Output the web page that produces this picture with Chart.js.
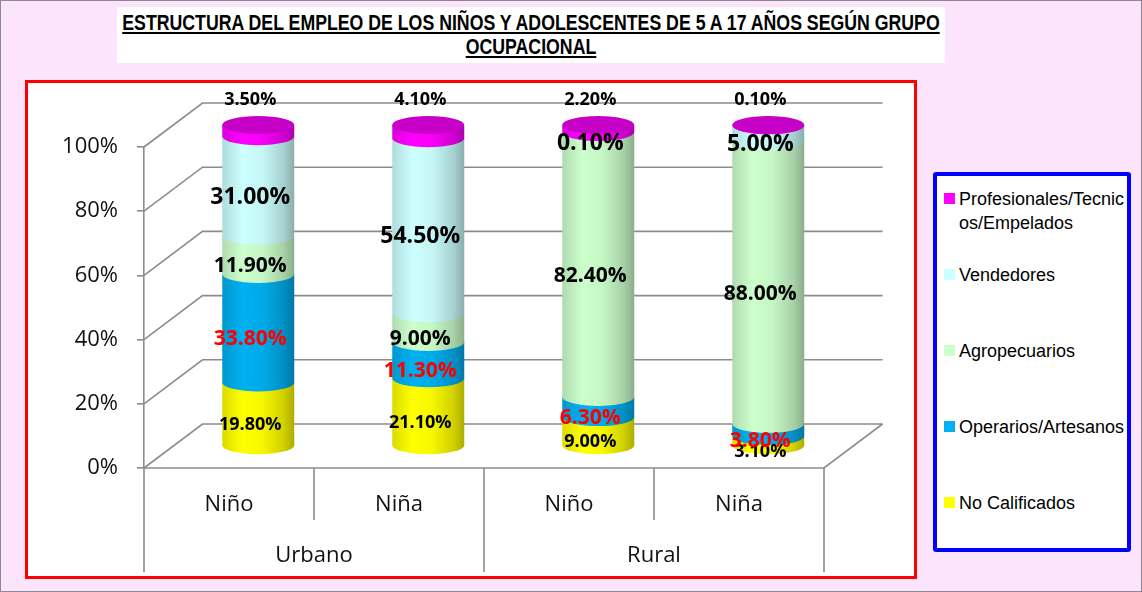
<!DOCTYPE html>
<html>
<head>
<meta charset="utf-8">
<script src="https://cdn.jsdelivr.net/npm/chart.js@4/dist/chart.umd.min.js"></script>
<style>
    html, body { margin: 0; padding: 0; }
    body { width: 1142px; height: 592px; background: #FCE4FC; position: relative; overflow: hidden; font-family: 'Liberation Sans', Arial, sans-serif; }
    #outer { position: absolute; left: 0; top: 0; width: 1142px; height: 592px; box-sizing: border-box; border: 1px solid #8a8a8a; }
    #title { position: absolute; left: 117px; top: 7px; width: 828px; height: 56px; background: #fff; text-align: center; color: #000; }
    #title span { position: absolute; left: 50%; top: 4px; transform: translateX(-50%) scaleX(0.805); white-space: nowrap;
                  font-family: 'Liberation Sans', Arial, sans-serif; font-weight: bold; font-size: 22px; line-height: 24px; text-decoration: underline; }
    #frame { position: absolute; left: 25px; top: 80px; width: 892px; height: 499px; box-sizing: border-box; border: 3px solid #ff0000; background: #fff; }
    #chart { position: absolute; left: 0; top: 0; }
    #legend { position: absolute; left: 933px; top: 172px; width: 198px; height: 380px; box-sizing: border-box; border: 4px solid #0000ff; border-radius: 3px; background: #fff; }
    .item { position: absolute; left: 7px; width: 185px; }
    .swatch { position: absolute; left: 0; top: 6px; width: 11px; height: 11px; }
    .txt { position: absolute; left: 15px; width: 168px; font-size: 18px; line-height: 24px; color: #000; word-break: break-all; }
</style>
</head>
<body>
<div id="outer"></div>
<div id="title"><span>ESTRUCTURA DEL EMPLEO DE LOS NIÑOS Y ADOLESCENTES DE 5 A 17 AÑOS SEGÚN GRUPO<br>OCUPACIONAL</span></div>
<div id="frame"></div>
<canvas id="chart" width="1142" height="592"></canvas>
<div id="legend"></div>
<script>
// Datos del grafico
const categories = ['Niño', 'Niña', 'Niño', 'Niña'];
const groups = ['Urbano', 'Rural'];
const seriesNames = ['No Calificados', 'Operarios/Artesanos', 'Agropecuarios', 'Vendedores', 'Profesionales/Tecnicos/Empelados'];
const noCalificados = [19.8, 21.1, 9.0, 3.1];
const operarios = [33.8, 11.3, 6.3, 3.8];
const agropecuarios = [11.9, 9.0, 82.4, 88.0];
const vendedores = [31.0, 54.5, 0.1, 5.0];
const profesionales = [3.5, 4.1, 2.2, 0.1];
const yTicks = [0, 20, 40, 60, 80, 100];

const seriesData = [noCalificados, operarios, agropecuarios, vendedores, profesionales];
const seriesColors = ['#FFFF00', '#00B0F0', '#CCFFCC', '#CCFFFF', '#FF00FF'];
const labelColors = ['#000', '#FF0000', '#000', '#000', '#000'];
const labelSizes = [18, 21, 21, 23, 18];

// profundidad 3D
const DX = 58.5, DY = -44, RY = 9;
const GRID = '#8c8c8c';

function shade(hex, f) {
    const n = parseInt(hex.slice(1), 16);
    const c = [(n >> 16) & 255, (n >> 8) & 255, n & 255].map(v => Math.max(0, Math.min(255, Math.round(v * f))));
    return `rgb(${c[0]},${c[1]},${c[2]})`;
}

const cylinderPlugin = {
    id: 'cylinder3d',
    beforeDatasetsDraw(chart) {
        const ctx = chart.ctx;
        const xs = chart.scales.x, ys = chart.scales.y;
        const y0 = ys.getPixelForValue(0);

        ctx.save();
        ctx.strokeStyle = GRID;
        ctx.lineWidth = 1.6;
        // paredes: lateral y fondo
        yTicks.forEach(v => {
            const py = ys.getPixelForValue(v);
            ctx.beginPath();
            ctx.moveTo(xs.left, py);
            ctx.lineTo(xs.left + DX, py + DY);
            ctx.lineTo(xs.right + DX, py + DY);
            ctx.stroke();
        });
        // piso
        ctx.beginPath();
        ctx.moveTo(xs.left, y0);
        ctx.lineTo(xs.right, y0);
        ctx.lineTo(xs.right + DX, y0 + DY);
        ctx.stroke();

        // tabla de categorias
        const bounds = [xs.left];
        for (let i = 0; i < categories.length - 1; i++) {
            bounds.push((xs.getPixelForTick(i) + xs.getPixelForTick(i + 1)) / 2);
        }
        bounds.push(xs.right);
        bounds.forEach((bx, i) => {
            const long = i % 2 === 0;
            ctx.beginPath();
            ctx.moveTo(bx, y0);
            ctx.lineTo(bx, y0 + (long ? 104 : 52));
            ctx.stroke();
        });
        ctx.fillStyle = '#111';
        ctx.font = "22px 'Open Sans'";
        ctx.textAlign = 'center';
        ctx.textBaseline = 'middle';
        groups.forEach((g, i) => {
            ctx.fillText(g, (bounds[i * 2] + bounds[i * 2 + 2]) / 2, y0 + 88);
        });

        // cilindros
        for (let i = 0; i < categories.length; i++) {
            let top = null;
            seriesData.forEach((s, d) => {
                const el = chart.getDatasetMeta(d).data[i];
                const rx = el.width / 2;
                const cx = el.x + DX / 2;
                const ty = el.y + DY / 2;
                const by = el.base + DY / 2;
                const col = seriesColors[d];
                const g = ctx.createLinearGradient(cx - rx, 0, cx + rx, 0);
                g.addColorStop(0, shade(col, 0.86));
                g.addColorStop(0.28, shade(col, 1.0));
                g.addColorStop(0.55, shade(col, 0.97));
                g.addColorStop(0.85, shade(col, 0.82));
                g.addColorStop(1, shade(col, 0.68));
                ctx.fillStyle = g;
                ctx.beginPath();
                ctx.moveTo(cx - rx, ty);
                ctx.lineTo(cx + rx, ty);
                ctx.lineTo(cx + rx, by);
                ctx.ellipse(cx, by, rx, RY, 0, 0, Math.PI);
                ctx.closePath();
                ctx.fill();
                top = { cx, ty, rx, col };
            });
            ctx.fillStyle = shade(top.col, 0.78);
            ctx.beginPath();
            ctx.ellipse(top.cx, top.ty, top.rx, RY, 0, 0, Math.PI * 2);
            ctx.fill();
        }

        // etiquetas
        seriesData.forEach((s, d) => {
            const meta = chart.getDatasetMeta(d);
            ctx.fillStyle = labelColors[d];
            ctx.font = `bold ${labelSizes[d]}px 'Open Sans'`;
            s.forEach((v, i) => {
                const el = meta.data[i];
                const lx = el.x + DX / 2 - 8;
                let ly;
                if (d === seriesData.length - 1) ly = el.y + DY / 2 - 25;
                else ly = (el.y + el.base) / 2 + DY / 2 + 11;
                ctx.fillText(v.toFixed(2) + '%', lx, ly);
            });
        });
        ctx.restore();
        return false;
    }
};

new Chart(document.getElementById('chart'), {
    type: 'bar',
    data: {
        labels: categories,
        datasets: seriesData.map((s, d) => ({
            label: seriesNames[d],
            data: s,
            backgroundColor: seriesColors[d],
            categoryPercentage: 1,
            barPercentage: 0.4235
        }))
    },
    options: {
        responsive: false,
        animation: false,
        layout: { padding: { left: 44, top: 147, right: 318, bottom: 64 } },
        plugins: { legend: { display: false }, tooltip: { enabled: false } },
        scales: {
            x: {
                stacked: true,
                grid: { display: false },
                border: { display: false },
                ticks: { font: { family: 'Open Sans', size: 22 }, color: '#111', padding: 16, maxRotation: 0 },
                afterFit: s => { s.height = 60; }
            },
            y: {
                stacked: true,
                min: 0,
                max: 100,
                ticks: { stepSize: 20, callback: v => v + '%', font: { family: 'Open Sans', size: 22 }, color: '#111', padding: 19 },
                grid: { drawOnChartArea: false, tickLength: 7, color: GRID, lineWidth: 1.6 },
                border: { color: GRID, width: 1.6 },
                afterFit: s => { s.width = 100; }
            }
        }
    },
    plugins: [cylinderPlugin]
});

// Leyenda personalizada
const legendDiv = document.getElementById('legend');
seriesNames.slice().reverse().forEach((name, k) => {
    const d = seriesNames.length - 1 - k;
    legendDiv.innerHTML += `
        <div class="item" style="top:${11 + 76 * k}px">
            <div class="swatch" style="background:${seriesColors[d]}"></div>
            <div class="txt">${name}</div>
        </div>`;
});
</script>
</body>
</html>
